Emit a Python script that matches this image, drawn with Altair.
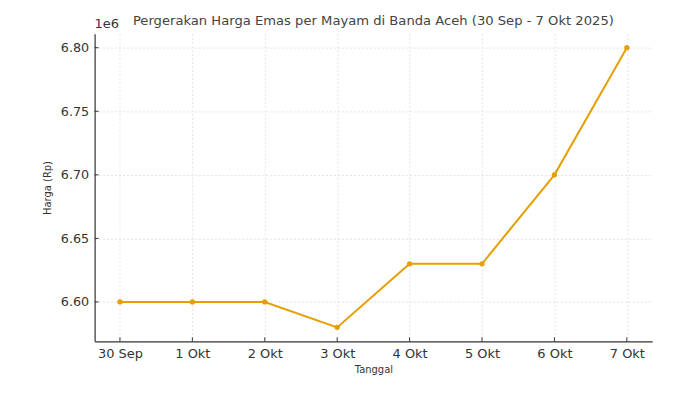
import altair as alt
import pandas as pd

dates = ["30 Sep", "1 Okt", "2 Okt", "3 Okt", "4 Okt", "5 Okt", "6 Okt", "7 Okt"]
prices = [6600000, 6600000, 6600000, 6580000, 6630000, 6630000, 6700000, 6800000]
y_ticks = [6600000, 6650000, 6700000, 6750000, 6800000]
title_text = "Pergerakan Harga Emas per Mayam di Banda Aceh (30 Sep - 7 Okt 2025)"

W, H = 560, 309
FONT = "DejaVu Sans"
LINE = "#E69F00"
AX = "#333333"

df = pd.DataFrame({"i": list(range(len(dates))), "tanggal": dates, "harga": prices})
ydf = pd.DataFrame({"v": y_ticks})

label_expr = "[" + ",".join(f"'{d}'" for d in dates) + "][datum.value]"

x_scale = alt.Scale(domain=[-0.35, 7.35], nice=False, zero=False)
y_scale = alt.Scale(domain=[6569000, 6811000], nice=False, zero=False)

x_enc = alt.X(
    "i:Q", scale=x_scale,
    axis=alt.Axis(
        title="Tanggal", values=list(range(len(dates))), labelExpr=label_expr,
        tickSize=0, labelPadding=6, labelFontSize=13, labelColor=AX,
        titleFontSize=10, titleFontWeight="normal", titleColor=AX, titlePadding=4,
        domainColor=AX, domainWidth=1.2,
        grid=True, gridDash=[2, 2], gridColor="#dddddd", gridWidth=0.8,
        labelFont=FONT, titleFont=FONT,
    ),
)
y_enc = alt.Y(
    "harga:Q", scale=y_scale,
    axis=alt.Axis(
        title="Harga (Rp)", values=y_ticks,
        labelExpr="format(datum.value/1e6, '.2f')",
        tickSize=0, labelPadding=6, labelFontSize=12.8, labelColor=AX,
        titleFontSize=10, titleFontWeight="normal", titleColor=AX, titlePadding=8,
        domainColor=AX, domainWidth=1.2,
        grid=True, gridDash=[2, 2], gridColor="#dddddd", gridWidth=0.8,
        labelFont=FONT, titleFont=FONT,
    ),
)

line = alt.Chart(df).mark_line(color=LINE, strokeWidth=2).encode(x=x_enc, y=y_enc)
pts = alt.Chart(df).mark_point(color=LINE, filled=True, size=28, opacity=1).encode(
    x=alt.X("i:Q", scale=x_scale), y=alt.Y("harga:Q", scale=y_scale)
)

xticks = alt.Chart(df).mark_rule(color=AX, strokeWidth=1).encode(
    x=alt.X("i:Q", scale=x_scale), y=alt.value(H), y2=alt.value(H - 4)
)
yticks = alt.Chart(ydf).mark_rule(color=AX, strokeWidth=1).encode(
    y=alt.Y("v:Q", scale=y_scale), x=alt.value(0), x2=alt.value(4)
)
offset = alt.Chart(df.head(1)).mark_text(
    text="1e6", font=FONT, fontSize=13, color=AX, align="left", baseline="bottom"
).encode(x=alt.value(0), y=alt.value(-3))
title = alt.Chart(df.head(1)).mark_text(
    text=title_text, font=FONT, fontSize=13.2, color="#444444", align="center", baseline="bottom"
).encode(x=alt.value(W / 2), y=alt.value(-6))

chart = alt.layer(line, pts, xticks, yticks, offset, title).properties(
    width=W, height=H,
    autosize=alt.AutoSizeParams(type="none"),
    padding={"left": 87, "top": 25, "right": 40, "bottom": 40},
).configure_view(stroke=None)

chart.save("out.html", embed_options={"renderer": "svg", "actions": False})
